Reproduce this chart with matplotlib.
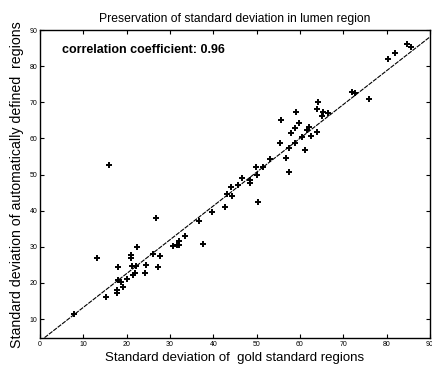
import matplotlib
matplotlib.use('Agg')
import matplotlib.pyplot as plt

plt.rcParams['font.family'] = ['Liberation Sans', 'DejaVu Sans']

# standard deviation: gold standard (x) vs automatically defined (y)
gold_sd = [7.9, 15.9, 26.8, 13.2, 22.4, 21.0, 21.0, 18.0, 21.2, 22.2,
           24.5, 24.2, 21.9, 21.5, 20.1, 18.0, 18.7, 19.2, 17.8, 17.8,
           15.2, 26.1, 27.7, 27.3, 31.6, 30.7, 36.7, 37.6, 33.5, 32.1,
           32.1, 39.7, 42.7, 44.1, 43.2, 44.3, 45.7, 46.7, 48.5, 48.5,
           50.1, 49.9, 51.5, 50.4, 53.1, 57.5, 56.8, 57.5, 55.4, 58.9,
           60.5, 61.2, 57.9, 58.9, 59.8, 61.7, 62.1, 62.6, 64.0, 55.7,
           59.1, 64.2, 64.0, 65.4, 66.5, 65.1, 72.1, 72.7, 75.9, 80.4,
           82.0, 84.8, 85.7]
auto_sd = [11.4, 52.7, 38.0, 26.9, 29.9, 27.7, 26.9, 24.4, 24.7, 24.7,
           25.0, 22.7, 22.7, 22.2, 21.1, 20.8, 20.2, 18.9, 18.0, 17.2,
           16.1, 28.0, 27.5, 24.4, 30.5, 30.2, 37.2, 30.8, 33.0, 31.6,
           30.5, 39.6, 41.0, 46.6, 44.6, 44.1, 47.1, 49.1, 48.5, 47.7,
           49.9, 52.1, 52.1, 42.4, 54.3, 50.7, 54.6, 57.4, 58.8, 58.8,
           60.4, 56.8, 61.5, 62.9, 64.3, 62.3, 63.2, 60.7, 61.8, 65.1,
           67.3, 70.1, 68.2, 67.3, 67.1, 66.2, 72.9, 72.6, 70.9, 82.0,
           83.7, 86.2, 85.3]

# regression line end points
fit_x = [0, 90]
fit_y = [3.9, 88.1]

xticks = [0, 10, 20, 30, 40, 50, 60, 70, 80, 90]
yticks = [10, 20, 30, 40, 50, 60, 70, 80, 90]

fig = plt.figure(figsize=(4.32, 3.72), dpi=100)
ax = fig.add_axes([0.093, 0.091, 0.902, 0.828])

ax.plot(fit_x, fit_y, color='black', lw=0.8, ls=(0, (4, 1)))
ax.plot(gold_sd, auto_sd, '+', color='black', markersize=5, mew=1.4)

ax.set_xlim(0, 90)
ax.set_ylim(4.7, 90)
ax.set_xticks(xticks)
ax.set_yticks(yticks)
ax.tick_params(direction='in', length=3, width=0.8, labelsize=5,
               top=True, right=True, pad=2)
for s in ax.spines.values():
    s.set_linewidth(1.0)

ax.text(5.1, 84.5, 'correlation coefficient: 0.96', fontsize=9,
        fontweight='bold', va='center', ha='left')

ax.set_title('Preservation of standard deviation in lumen region',
             fontsize=8.7, pad=6)
ax.set_xlabel('Standard deviation of  gold standard regions', fontsize=9.5,
              labelpad=3)
ax.set_ylabel('Standard deviation of automatically defined  regions',
              fontsize=10.2, labelpad=4)

fig.savefig('out.png', dpi=100)
